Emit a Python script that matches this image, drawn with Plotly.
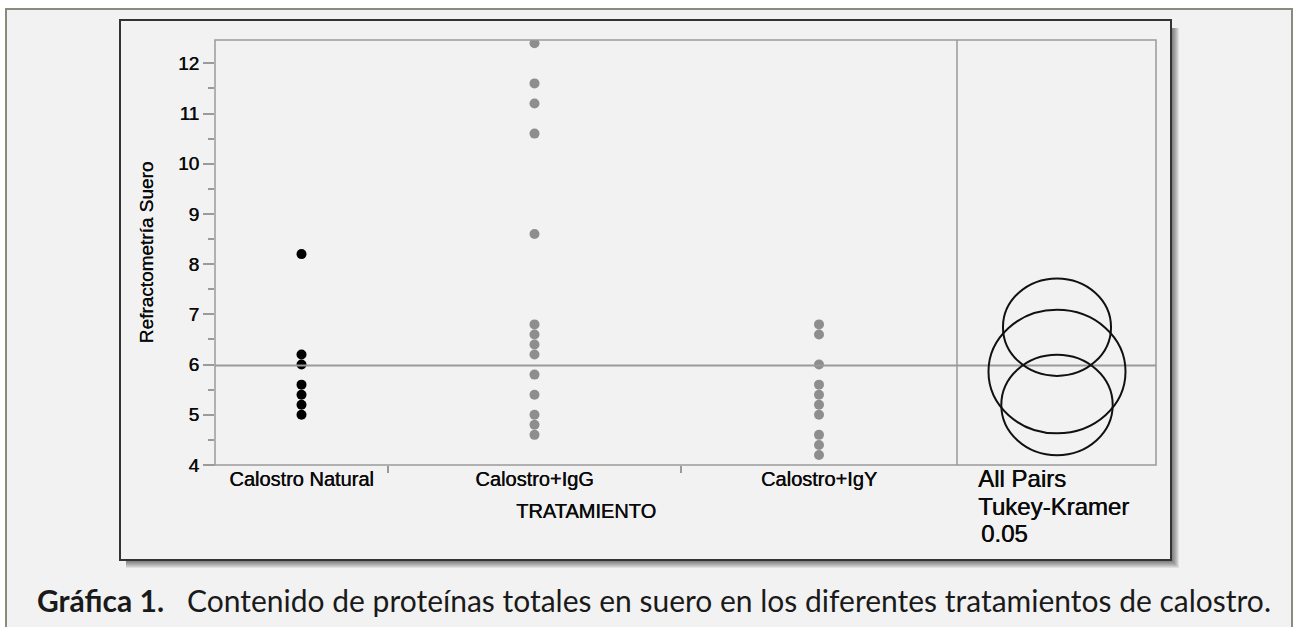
import plotly.graph_objects as go

# ---------------- data ----------------
categories = ["Calostro Natural", "Calostro+IgG", "Calostro+IgY"]
natural_vals = [8.2, 6.2, 6.0, 5.6, 5.4, 5.2, 5.0]
igg_vals = [12.4, 11.6, 11.2, 10.6, 8.6, 6.8, 6.6, 6.4, 6.2, 5.8, 5.4, 5.0, 4.8, 4.6]
igy_vals = [6.8, 6.6, 6.0, 5.6, 5.4, 5.2, 5.0, 4.6, 4.4, 4.2]
grand_mean = 5.98
circle_means = [5.86, 6.745, 5.195]   # Natural, IgG, IgY
circle_radii = [1.23, 0.97, 1.00]
y_ticks = [4, 5, 6, 7, 8, 9, 10, 11, 12]
tk_lines = ["All Pairs", "Tukey-Kramer", "0.05"]

# ---------------- layout constants ----------------
W, H = 1294, 627
GROUP_SPAN = [173, 293, 276]          # horizontal width of each group (JMP proportional axis)
PLOT_L, PLOT_R, PLOT_T, PLOT_B = 215, 1156, 40, 465
DIV_X = 957
Y_MIN = 4
PX_PER_UNIT = 50.21
Y_MAX = Y_MIN + (PLOT_B - PLOT_T) / PX_PER_UNIT
X2_PX_PER_UNIT = 55.7
FONT = "Liberation Sans, Arial, sans-serif"
BG = "#f2f2f2"
AXGRAY = "#9a9a9a"
TXT = "#0a0a0a"
HEAVY = "0.45px 0 0 #0a0a0a"


def px(x):
    return x / W


def py(y):
    return 1 - y / H


def tfont(size):
    return dict(family=FONT, size=size, color=TXT, shadow=HEAVY)


bounds = [0]
for w in GROUP_SPAN:
    bounds.append(bounds[-1] + w)
centers = [(bounds[i] + bounds[i + 1]) / 2 for i in range(len(GROUP_SPAN))]

fig = go.Figure()

series = [natural_vals, igg_vals, igy_vals]
colors = ["#000000", "#8e8e8e", "#8e8e8e"]
for i, vals in enumerate(series):
    fig.add_trace(go.Scatter(
        x=[centers[i]] * len(vals), y=vals, mode="markers",
        marker=dict(color=colors[i], size=10, line=dict(width=0)),
        xaxis="x", yaxis="y", showlegend=False, hoverinfo="y",
    ))

# invisible trace to activate x2
fig.add_trace(go.Scatter(x=[0], y=[grand_mean], mode="markers", marker=dict(opacity=0),
                         xaxis="x2", yaxis="y", showlegend=False, hoverinfo="skip"))

shapes = []
# outer frame (light gray page)
shapes.append(dict(type="rect", xref="paper", yref="paper", layer="below",
                   x0=px(6), x1=px(1292), y0=py(700), y1=py(9),
                   fillcolor=BG, line=dict(color="#8c897d", width=2)))
# shadow of inner box
for k in range(1, 9):
    shapes.append(dict(type="rect", xref="paper", yref="paper", layer="below",
                       x0=px(126), x1=px(1171 + k), y0=py(560 + k), y1=py(28),
                       fillcolor="rgba(0,0,0,0.08)", line=dict(width=0)))
# inner box
shapes.append(dict(type="rect", xref="paper", yref="paper", layer="below",
                   x0=px(120), x1=px(1171), y0=py(560), y1=py(20),
                   fillcolor=BG, line=dict(color="#333333", width=2)))
# plot area border
shapes.append(dict(type="rect", xref="paper", yref="paper", layer="above",
                   x0=px(PLOT_L), x1=px(PLOT_R), y0=py(PLOT_B), y1=py(PLOT_T),
                   line=dict(color=AXGRAY, width=1.5)))
# x axis line extension to the left
shapes.append(dict(type="line", xref="paper", yref="paper", layer="above",
                   x0=px(203), x1=px(PLOT_L), y0=py(PLOT_B), y1=py(PLOT_B),
                   line=dict(color=AXGRAY, width=1.5)))
# divider
shapes.append(dict(type="line", xref="paper", yref="paper", layer="above",
                   x0=px(DIV_X), x1=px(DIV_X), y0=py(PLOT_B), y1=py(PLOT_T),
                   line=dict(color=AXGRAY, width=1.5)))
# grand mean line
shapes.append(dict(type="line", xref="paper", yref="y", layer="above",
                   x0=px(PLOT_L), x1=px(PLOT_R), y0=grand_mean, y1=grand_mean,
                   line=dict(color=AXGRAY, width=2)))
# comparison circles
for m, r in zip(circle_means, circle_radii):
    shapes.append(dict(type="circle", xref="x2", yref="y", layer="above",
                       x0=-r, x1=r, y0=m - r, y1=m + r,
                       line=dict(color="#111111", width=2)))

annotations = []
tk_y = [478, 506, 533]
tk_x = [976, 976, 979]
for t, yy, xx in zip(tk_lines, tk_y, tk_x):
    annotations.append(dict(text=t, xref="paper", yref="paper", x=px(xx), y=py(yy),
                            xanchor="left", yanchor="middle", showarrow=False,
                            font=tfont(24)))
annotations.append(dict(
    text="<b>Gráfica 1.</b>\u00a0\u00a0\u00a0Contenido de proteínas totales en suero en los diferentes tratamientos de calostro.",
    xref="paper", yref="paper", x=px(35), y=py(600), xanchor="left", yanchor="middle",
    showarrow=False, font=dict(family="Lato, sans-serif", size=30, color="#1a1a1a")))

x2_left = -(1057 - DIV_X) / X2_PX_PER_UNIT
x2_right = (PLOT_R - 1057) / X2_PX_PER_UNIT

fig.update_layout(
    width=W, height=H,
    margin=dict(l=0, r=0, t=0, b=0, autoexpand=False),
    paper_bgcolor="white", plot_bgcolor="rgba(0,0,0,0)",
    showlegend=False,
    xaxis=dict(domain=[px(PLOT_L), px(DIV_X)], range=[bounds[0], bounds[-1]],
               tickmode="array", tickvals=centers, ticktext=categories, ticks="",
               showgrid=False, zeroline=False, showline=False, automargin=False,
               tickfont=tfont(20),
               minor=dict(tickmode="array", tickvals=bounds[1:-1], ticks="outside",
                          ticklen=7, tickwidth=1.5, tickcolor=AXGRAY, showgrid=False),
               title=dict(text="TRATAMIENTO", font=tfont(20), standoff=14),
               fixedrange=True),
    xaxis2=dict(domain=[px(DIV_X), px(PLOT_R)], range=[x2_left, x2_right], anchor="y",
                showticklabels=False, ticks="", showgrid=False, zeroline=False,
                showline=False, fixedrange=True),
    yaxis=dict(domain=[py(PLOT_B), py(PLOT_T)], range=[Y_MIN, Y_MAX],
               tickmode="array", tickvals=y_ticks, ticks="outside", ticklen=11,
               tickwidth=1.5, tickcolor=AXGRAY,
               minor=dict(dtick=0.5, tick0=4, ticks="outside", ticklen=6, tickwidth=1.5,
                          tickcolor=AXGRAY, showgrid=False),
               showgrid=False, zeroline=False, showline=False, automargin=False,
               tickfont=tfont(19),
               title=dict(text="Refractometría Suero", font=tfont(19), standoff=19),
               fixedrange=True),
    shapes=shapes,
    annotations=annotations,
)

fig.write_html("out.html", config={"displayModeBar": False},
               post_script="document.body.style.margin='0';document.body.style.overflow='hidden';")
